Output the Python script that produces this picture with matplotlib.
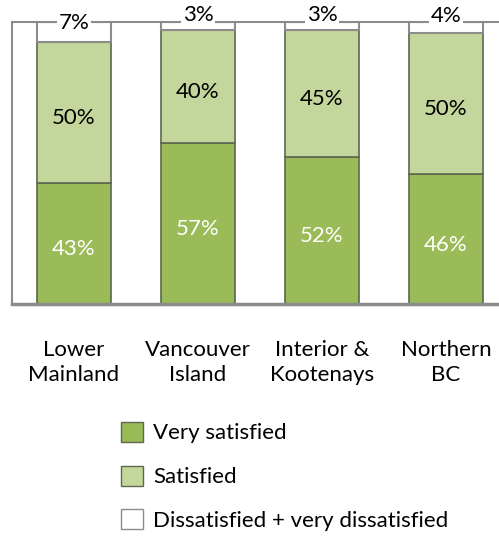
import numpy as np
import matplotlib.pyplot as plt
from matplotlib.patches import Patch

regions = ['Lower\nMainland', 'Vancouver\nIsland', 'Interior &\nKootenays', 'Northern\nBC']
very_satisfied = [43, 57, 52, 46]
satisfied = [50, 40, 45, 50]
dissatisfied = [7, 3, 3, 4]
# where the top labels sit (they ride above the thin white segments)
top_label_y = [99.5, 102.4, 102.4, 102.1]

col_very = '#9BBB59'
col_sat = '#C3D69B'
edge_dark = '#5E6650'
edge_grey = '#8C8C8C'

plt.rcParams['font.family'] = ['Lato', 'DejaVu Sans']

fig = plt.figure(figsize=(4.99, 5.36), dpi=100)
ax = fig.add_axes([12/499, 1-304/536, 496/499, 282/536])

x = np.arange(len(regions))
w = 0.59
vs = np.array(very_satisfied)
s = np.array(satisfied)
d = np.array(dissatisfied)

ax.bar(x, vs, w, color=col_very, edgecolor=edge_dark, linewidth=1.2, zorder=2)
ax.bar(x, s, w, bottom=vs, color=col_sat, edgecolor=edge_dark, linewidth=1.2, zorder=2)
ax.bar(x, d, w, bottom=vs+s, color='white', edgecolor=edge_grey, linewidth=1.5, zorder=2)

for i in range(len(x)):
    ax.annotate('%d%%' % vs[i], (x[i], vs[i]/2), xytext=(0, -4),
                textcoords='offset points', ha='center', va='center',
                color='white', fontsize=16, zorder=5)
    ax.annotate('%d%%' % s[i], (x[i], vs[i]+s[i]/2), xytext=(0, -4),
                textcoords='offset points', ha='center', va='center',
                color='black', fontsize=16, zorder=5)
    ax.text(x[i], top_label_y[i], '%d%%' % d[i], ha='center', va='center',
            color='black', fontsize=16, zorder=5, clip_on=False,
            bbox=dict(facecolor='white', edgecolor='none', pad=1.5))

ax.set_xlim(-0.5, 3.5)
ax.set_ylim(0, 100)
ax.set_yticks([])
ax.set_xticks(x)
ax.set_xticklabels(regions, fontsize=16, linespacing=1.32)
ax.tick_params(axis='x', length=0, pad=26)
for sp in ['left', 'top', 'right']:
    ax.spines[sp].set_color(edge_grey)
    ax.spines[sp].set_linewidth(1.5)
ax.spines['bottom'].set_color(edge_grey)
ax.spines['bottom'].set_linewidth(2.5)

handles = [Patch(facecolor=col_very, edgecolor=edge_dark, label='Very satisfied'),
           Patch(facecolor=col_sat, edgecolor=edge_dark, label='Satisfied'),
           Patch(facecolor='white', edgecolor=edge_grey, label='Dissatisfied + very dissatisfied')]
fig.legend(handles=handles, loc='upper left', bbox_to_anchor=(112/499, 1-413/536),
           frameon=False, fontsize=16, handlelength=1.0, handleheight=1.0,
           handletextpad=0.45, labelspacing=1.0, borderaxespad=0)

fig.savefig('out.png', dpi=100)
